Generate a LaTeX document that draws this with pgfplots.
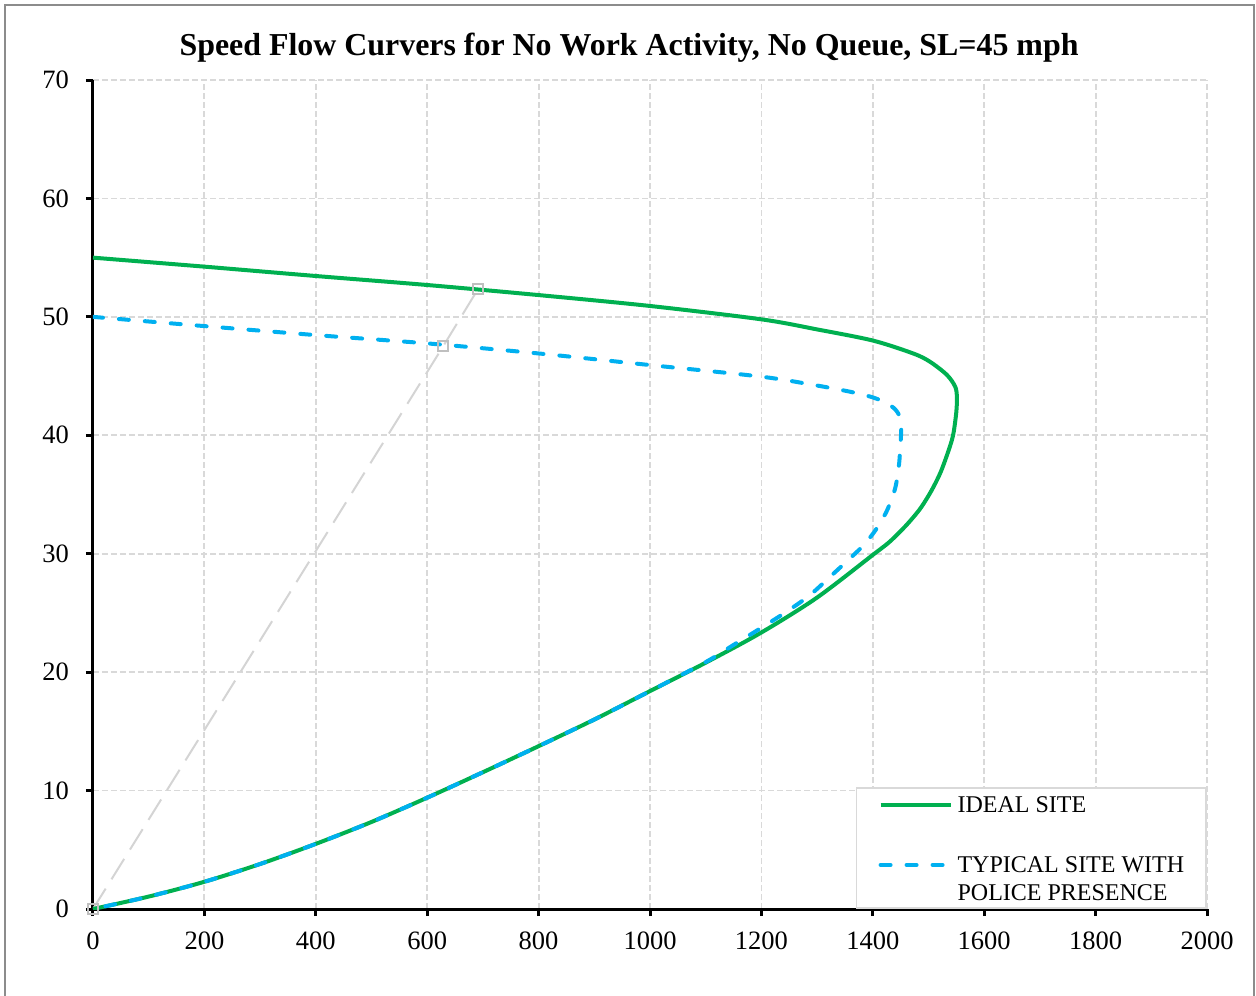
\documentclass[border=0pt]{standalone}
\usepackage{fontspec}
\setmainfont{Liberation Serif}
\usepackage{pgfplots}
\pgfplotsset{compat=1.18}
\definecolor{ideal}{HTML}{00B050}
\definecolor{police}{HTML}{00B0F0}
\definecolor{gridgray}{HTML}{D9D9D9}
\definecolor{refgray}{HTML}{D4D4D4}
\definecolor{markgray}{HTML}{BFBFBF}
\definecolor{framegray}{HTML}{8C8C8C}

\begin{document}
\begin{tikzpicture}
\useasboundingbox (-46.5pt,-43pt) rectangle (581.5pt,454.5pt);
\draw[framegray, line width=1pt] (-44pt,-50pt) -- (-44pt,452pt) -- (580.5pt,452pt) -- (580.5pt,-50pt);
\begin{axis}[
  at={(0pt,0pt)}, anchor=south west,
  scale only axis, width=557pt, height=414.5pt,
  xmin=0, xmax=2000, ymin=0, ymax=70,
  xtick={0,200,...,2000}, ytick={0,10,...,70},
  axis x line*=bottom, axis y line*=left,
  axis line style={black, line width=1.5pt},
  tick align=outside, major tick length=3.5pt,
  tick style={black, line width=1.5pt},
  grid=major,
  major grid style={gridgray, line width=0.9pt, dash pattern=on 3pt off 1.5pt},
  tick label style={font=\fontsize{13.25}{15}\selectfont},
  yticklabel style={xshift=-5pt},
  xticklabel style={yshift=-4.5pt},
  /pgf/number format/assume math mode=true,
  /pgf/number format/set thousands separator={},
  title={Speed Flow Curvers for No Work Activity, No Queue, SL=45 mph},
  title style={font=\bfseries\fontsize{15.95}{18}\selectfont,
    at={(axis description cs:0.4812,1)}, anchor=base, yshift=6.5pt},
  legend style={at={(axis cs:2000,0)}, anchor=south east,
    draw=gridgray, line width=0.8pt, fill=white,
    inner xsep=11pt, inner ysep=4.5pt, row sep=21.1pt, column sep=2.5pt,
    font=\fontsize{12}{14}\selectfont,
    nodes={inner sep=0pt, text depth=}, cells={anchor=base west}},
  legend image code/.code={\path (0pt,0pt); \draw[#1] (0pt,4pt) -- (35pt,4pt);},
]
% reference line through origin
\addplot[refgray, line width=1pt, dash pattern=on 12pt off 5.5pt, forget plot]
  coordinates {(0,0) (629,47.54) (691,52.33)};

\addplot[ideal, line width=2pt, smooth, tension=0.5] coordinates {
  (0,55) (200,54.24) (400,53.45) (600,52.69) (800,51.84) (1000,50.92)
  (1200,49.79) (1300,48.94) (1400,48.0) (1473,46.9)
  (1503,46.2) (1533,45.1) (1548,44.1) (1551,43.2) (1550,42.0)
  (1546,40.5) (1542,39.6) (1533,38.3) (1521,36.8) (1505,35.3) (1485,33.8)
  (1460,32.4) (1430,31.0) (1400,29.9) (1300,26.3) (1200,23.35) (1100,20.8)
  (1000,18.4) (900,16.0) (800,13.75) (700,11.55) (600,9.4) (500,7.35)
  (400,5.5) (300,3.8) (200,2.3) (100,1.05) (0,0)
};
\addlegendentry{IDEAL SITE}

\addplot[police, line width=2pt, line cap=round, dash pattern=on 5pt off 8pt,
  smooth, tension=0.5] coordinates {
  (0,50) (200,49.22) (400,48.46) (600,47.76) (800,46.91) (1000,45.93)
  (1200,44.95) (1300,44.2) (1360,43.67) (1400,43.2) (1425,42.7) (1440,42.2)
  (1449,41.5) (1451,40.5) (1450,39.5) (1447,37.5) (1440,35.5) (1425,33.6)
  (1405,32.0) (1385,30.8) (1368,30.0) (1329,28.3) (1287,26.5) (1245,25.1)
  (1200,23.75) (1150,22.3) (1100,20.85) (1000,18.4) (900,16.0) (800,13.75)
  (700,11.55) (600,9.4) (500,7.35) (400,5.5) (300,3.8) (200,2.3)
  (100,1.05) (0,0)
};
\addlegendentry{\vtop{\baselineskip=14pt\hbox{TYPICAL SITE WITH}\hbox{POLICE PRESENCE}\kern-1pt}}

% markers of the reference line
\addplot[only marks, mark=square, mark size=2.5pt,
  mark options={markgray, line width=0.9pt}, forget plot]
  coordinates {(0,0) (629,47.54) (691,52.33)};
\end{axis}
\end{tikzpicture}
\end{document}
